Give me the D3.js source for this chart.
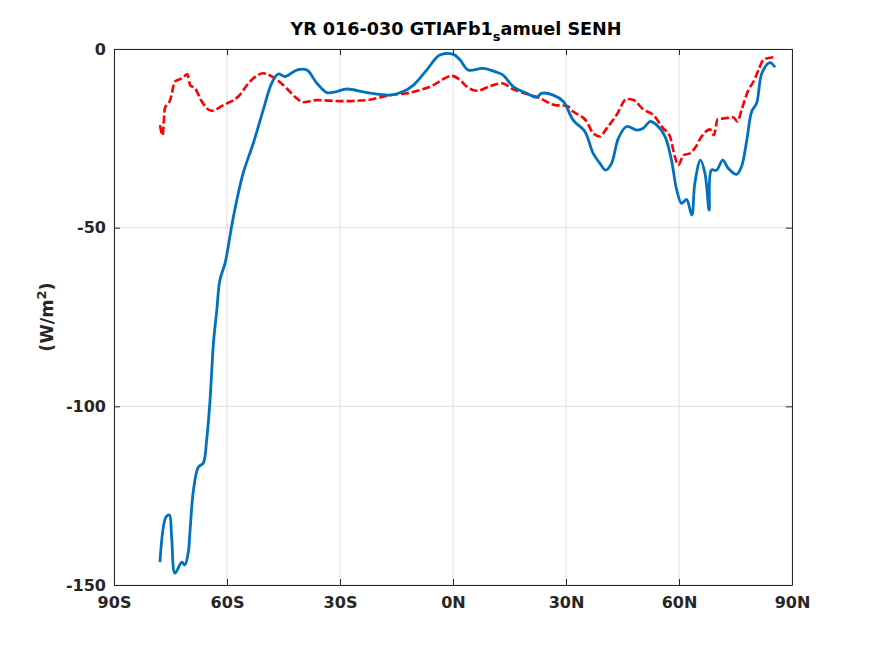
<!DOCTYPE html>
<html><head><meta charset="utf-8">
<script src="https://cdn.jsdelivr.net/npm/d3@7"></script>
<style>body{margin:0;background:#fff}svg{display:block}text{font-family:"DejaVu Sans",sans-serif}</style>
</head><body>
<svg id="c" width="875" height="656"></svg>
<script>
const xTicks=[-90,-60,-30,0,30,60,90];
const xTickLabels=["90S","60S","30S","0N","30N","60N","90N"];
const yTicks=[-150,-100,-50,0];
const blueLat=[-77.8,-76.2,-75.3,-74.7,-73.8,-72.0,-71.2,-70.3,-69.8,-68.9,-67.6,-66.3,-65.4,-64.5,-63.6,-62.7,-61.9,-60.5,-59.7,-58.8,-57.4,-55.7,-53.0,-50.4,-48.1,-46.4,-44.6,-41.5,-38.8,-36.2,-33.5,-30.9,-28.2,-22.9,-16.7,-13.2,-10.5,-7.0,-3.5,0.1,1.9,4.1,8.0,11.6,13.3,16.0,19.6,22.2,23.5,26.6,29.3,31.9,35.0,37.2,39.0,40.5,42.1,43.9,46.1,48.8,50.5,52.3,54.1,56.3,58.0,59.4,60.7,62.0,63.4,64.2,65.7,66.9,68.0,68.6,70.0,71.6,73.1,75.3,76.6,78.0,79.3,80.6,82.0,84.1,85.5];
const blueVal=[-143.6,-131,-130.4,-136.6,-146.7,-143.6,-144.4,-141,-134.6,-123.4,-117,-115.9,-109.4,-98.2,-82.3,-73,-64.7,-59.9,-55.4,-49.8,-42.3,-34.7,-26.3,-17.1,-9.5,-7.0,-7.7,-5.9,-5.9,-9.5,-12.2,-11.9,-11.2,-12.2,-12.9,-11.9,-10.1,-5.9,-1.7,-1.5,-3.1,-5.9,-5.4,-6.5,-7.3,-10.5,-12.4,-13.5,-12.4,-12.9,-14.7,-19.9,-23.1,-29.2,-32.0,-33.9,-32.0,-25.0,-21.7,-22.7,-22.2,-20.3,-21.3,-24.5,-31.1,-39.5,-43.2,-42.1,-46.5,-37.6,-31.1,-34.8,-45.1,-33.9,-33.9,-31.1,-33.4,-35.1,-32.9,-25.5,-17.5,-15.2,-6.8,-3.8,-5.1];
const redLat=[-77.8,-77.1,-76.5,-75.1,-73.8,-72.0,-70.5,-69.8,-68.5,-66.7,-64.1,-61.0,-57.0,-53.9,-50.4,-47.3,-44.2,-41.5,-39.8,-36.2,-30.0,-22.9,-16.7,-12.3,-8.8,-5.2,-3.5,-0.4,1.9,3.6,6.3,9.8,12.9,16.0,19.6,23.1,27.1,30.2,31.9,35.5,37.2,39.0,40.8,43.4,46.1,47.9,50.5,53.2,55.8,57.6,58.9,59.8,61.2,62.9,64.2,66.0,68.2,69.3,70.2,72.2,74.4,75.5,76.6,78.4,79.8,81.1,82.5,85.1];
const redVal=[-21.3,-24.1,-16.6,-14.3,-9.1,-8.2,-7.1,-10.1,-11.0,-14.7,-17.3,-15.7,-13.3,-9.1,-6.8,-8.2,-11.0,-13.8,-14.9,-14.3,-14.6,-14.3,-12.9,-12.4,-11.5,-10.1,-9.0,-7.5,-8.7,-10.5,-11.7,-10.4,-9.6,-11.3,-12.6,-13.8,-15.7,-15.9,-17.5,-20.3,-23.6,-24.5,-22.2,-18.5,-14.0,-14.3,-16.9,-18.5,-22.2,-24.5,-30.1,-32.5,-29.7,-29.2,-27.8,-24.5,-22.5,-24.1,-19.7,-19.4,-19.1,-20.3,-17.1,-11.5,-9.1,-5.9,-2.9,-2.3];

const svg=d3.select("#c");
const L=114,R=792,T=49,B=585;
const x=d3.scaleLinear().domain([-90,90]).range([L,R]);
const y=d3.scaleLinear().domain([-150,0]).range([B,T]);
const tc="#262626";
// grid
svg.append("g").selectAll("line").data(xTicks).join("line")
 .attr("x1",d=>x(d)).attr("x2",d=>x(d)).attr("y1",T).attr("y2",B)
 .attr("stroke","#dfdfdf").attr("stroke-width",1);
svg.append("g").selectAll("line").data(yTicks).join("line")
 .attr("x1",L).attr("x2",R).attr("y1",d=>y(d)).attr("y2",d=>y(d))
 .attr("stroke","#dfdfdf").attr("stroke-width",1);
// lines
const line=d3.line().x(d=>x(d[0])).y(d=>y(d[1])).curve(d3.curveMonotoneX);
svg.append("path").datum(redLat.map((v,i)=>[v,redVal[i]]))
 .attr("d",line).attr("fill","none").attr("stroke","#ff0000").attr("stroke-width",2.6)
 .attr("stroke-dasharray","8,3");
svg.append("path").datum(blueLat.map((v,i)=>[v,blueVal[i]]))
 .attr("d",d3.line().x(d=>x(d[0])).y(d=>y(d[1])).curve(d3.curveCatmullRom.alpha(0.5)))
 .attr("fill","none").attr("stroke","#0072bd").attr("stroke-width",2.8);
// axes
const xb=svg.append("g").attr("transform",`translate(0,${B})`)
 .call(d3.axisBottom(x).tickValues(xTicks).tickFormat((d,i)=>xTickLabels[i]).tickSizeInner(-6).tickSizeOuter(0).tickPadding(12));
const xt=svg.append("g").attr("transform",`translate(0,${T})`)
 .call(d3.axisTop(x).tickValues(xTicks).tickFormat("").tickSizeInner(-6).tickSizeOuter(0));
const yl=svg.append("g").attr("transform",`translate(${L},0)`)
 .call(d3.axisLeft(y).tickValues(yTicks).tickFormat(d3.format("d")).tickSizeInner(-6).tickSizeOuter(0).tickPadding(8));
const yr=svg.append("g").attr("transform",`translate(${R},0)`)
 .call(d3.axisRight(y).tickValues(yTicks).tickFormat("").tickSizeInner(-6).tickSizeOuter(0));
[xb,xt,yl,yr].forEach(g=>{
 g.select(".domain").attr("stroke",tc).attr("stroke-width",1);
 g.selectAll(".tick line").attr("stroke",tc);
 g.selectAll("text").attr("fill",tc).attr("font-size",16).attr("font-weight","bold").attr("font-family","DejaVu Sans");
});
yl.selectAll("text").text(d=>d3.format("d")(d).replace("−","-"));
// title
const t=svg.append("text").attr("x",456).attr("y",35).attr("text-anchor","middle")
 .attr("font-size",17.6).attr("font-weight","bold").attr("fill","#000");
t.append("tspan").text("YR 016-030 GTIAFb1");
t.append("tspan").attr("font-size",13).attr("dy",6).text("s");
t.append("tspan").attr("dy",-6).text("amuel SENH");
// y label
const yt=svg.append("text").attr("transform","translate(53,317) rotate(-90)").attr("text-anchor","middle")
 .attr("font-size",17.6).attr("font-weight","bold").attr("fill",tc);
yt.append("tspan").text("(W/m");
yt.append("tspan").attr("font-size",13).attr("dy",-7).text("2");
yt.append("tspan").attr("dy",7).text(")");
</script>
</body></html>
